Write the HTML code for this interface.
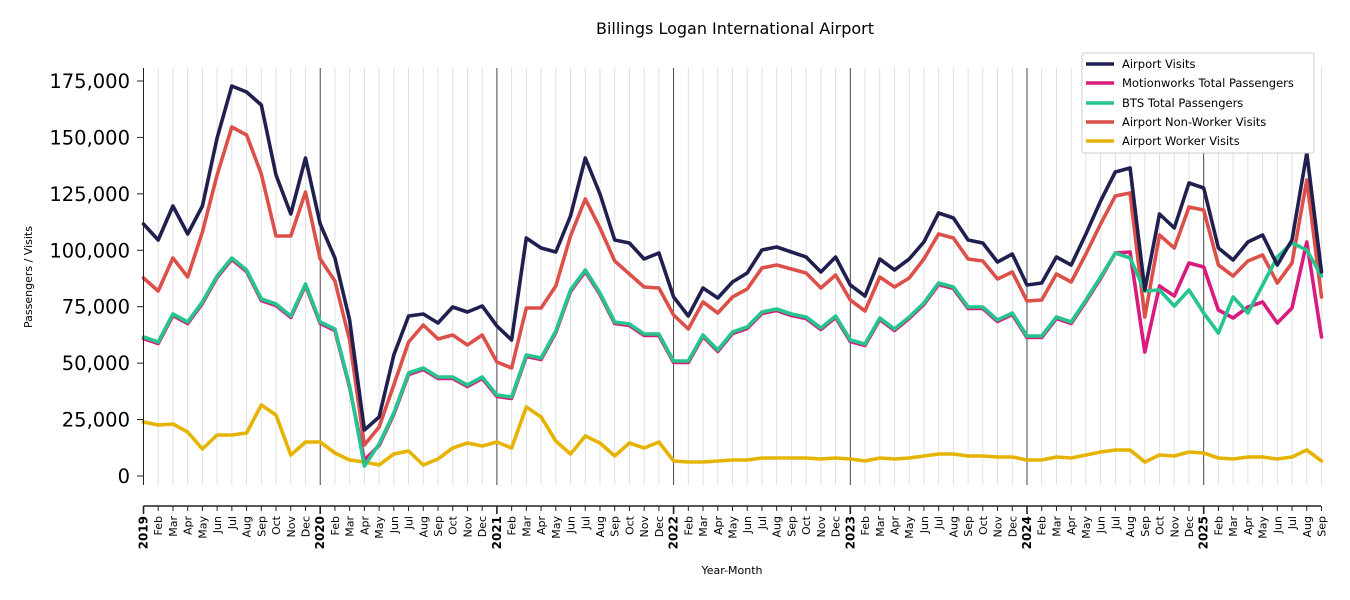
<!DOCTYPE html>
<html><head><meta charset="utf-8"><style>
html,body{margin:0;padding:0;background:#fff;}
svg{display:block;font-family:"DejaVu Sans","Liberation Sans",sans-serif;}
</style></head><body>
<svg id="c" width="1350" height="600" viewBox="0 0 1350 600" xmlns="http://www.w3.org/2000/svg">
<rect width="1350" height="600" fill="#fff"/>
<text x="735" y="34" font-size="16" text-anchor="middle" fill="#000">Billings Logan International Airport</text>
<g id="grid"></g>
<g id="series" fill="none" stroke-width="3.6" stroke-linejoin="round" stroke-linecap="round"></g>
<g id="axes"></g>
<text x="32" y="277" font-size="11" text-anchor="middle" transform="rotate(-90 32 277)">Passengers / Visits</text>
<text x="732" y="574" font-size="11" text-anchor="middle">Year-Month</text>
<g id="legend">
<rect x="1082" y="53" width="232" height="100" fill="#fff" stroke="#ccc" stroke-width="1" rx="2"/>
<g stroke-width="3.6">
<line x1="1086" y1="64" x2="1114" y2="64" stroke="#1f2050"/>
<line x1="1086" y1="83" x2="1114" y2="83" stroke="#d81b7f"/>
<line x1="1086" y1="103" x2="1114" y2="103" stroke="#26c48e"/>
<line x1="1086" y1="122" x2="1114" y2="122" stroke="#dc5049"/>
<line x1="1086" y1="141" x2="1114" y2="141" stroke="#e6b400"/>
</g>
<g font-size="11.5" fill="#000">
<text x="1122" y="68">Airport Visits</text>
<text x="1122" y="87">Motionworks Total Passengers</text>
<text x="1122" y="107">BTS Total Passengers</text>
<text x="1122" y="126">Airport Non-Worker Visits</text>
<text x="1122" y="145">Airport Worker Visits</text>
</g>
</g>
</svg>
<script>
var NS="http://www.w3.org/2000/svg";
function el(t,a,p,txt){var e=document.createElementNS(NS,t);for(var k in a)e.setAttribute(k,a[k]);if(txt!=null)e.textContent=txt;p.appendChild(e);return e;}
var x0=143.5,dx=14.725;
function X(i){return x0+i*dx;}
var grid=document.getElementById('grid'),axes=document.getElementById('axes'),ser=document.getElementById('series');
var months=["Jan","Feb","Mar","Apr","May","Jun","Jul","Aug","Sep","Oct","Nov","Dec"];
for(var i=0;i<=80;i++){
  var x=X(i),m=i%12;
  if(m==0&&i>0){el('line',{x1:x,y1:68,x2:x,y2:485,stroke:'#333','stroke-width':0.9},grid);}
  else if(i>0){el('line',{x1:x,y1:68,x2:x,y2:485,stroke:'#dddddd','stroke-width':0.9},grid);}
  el('line',{x1:x,y1:506,x2:x,y2:m==0?514:511,stroke:'#222','stroke-width':m==0?1.6:1},axes);
  var lbl=m==0?String(2019+i/12):months[m];
  el('text',{x:0,y:0,'font-size':m==0?12:11,'font-weight':m==0?'bold':'normal','text-anchor':'end',transform:'translate('+(x+4)+',516) rotate(-90)'},axes,lbl);
}
el('line',{x1:143.5,y1:506,x2:1321,y2:506,stroke:'#222','stroke-width':1.6},axes);
el('line',{x1:143.5,y1:68,x2:143.5,y2:485,stroke:'#222','stroke-width':1},axes);
var yl=["0","25,000","50,000","75,000","100,000","125,000","150,000","175,000"];
for(var j=0;j<8;j++){var y=476-j*56.43;
  el('line',{x1:137,y1:y,x2:143.5,y2:y,stroke:'#222','stroke-width':1},axes);
  el('text',{x:130,y:y+7,'font-size':19.5,'text-anchor':'end',fill:'#000'},axes,yl[j]);}
var AV=[224,240,206,234,206,138,86,92,105,175,214,158, 224,258,320,430,417,355,316,314,323,307,312,306, 326,340,238,248,252,216,158,194,240,243,259,253, 297,316,288,298,282,273,250,247,252,257,272,257, 285,296,259,270,259,242,213,218,240,243,262,254, 285,283,257,265,234,201,172,168,290,214,228,183, 188,248,260,242,235,265,240,153,272];
var NW=[278,291,258,277,232,175,127,135,174,236,236,192, 259,281,340,445,427,385,342,325,339,335,345,335, 362,368,308,308,286,236,199,228,261,274,287,288, 315,329,302,313,297,289,268,265,269,273,288,275, 300,311,277,287,278,259,234,238,259,261,279,272, 301,300,274,282,254,224,196,193,317,235,248,207, 210,265,276,261,255,283,263,180,297];
var BTS=[337,342,314,322,302,276,258,270,299,304,316,284, 322,329,386,466,444,413,373,368,377,377,385,377, 395,397,355,358,331,290,270,293,322,324,334,334, 361,361,335,350,332,327,312,309,314,317,328,316, 340,344,318,329,317,303,283,287,307,307,320,313, 336,336,317,322,300,277,253,258,291,290,306,290, 313,333,297,313,285,257,243,250,276];
var MW=BTS.map(function(v){return v+1.5;});
var mwTail=[253,252,352,286,296,263,267,310,318,307,302,323,308,242,337];
for(var k=0;k<mwTail.length;k++)MW[66+k]=mwTail[k];
MW[15]=460;
var WK=[422,425,424,432,449,435,435,433,405,415,455,442, 442,453,460,462,465,454,451,465,459,448,443,446, 442,448,407,417,441,454,436,443,456,443,448,442, 461,462,462,461,460,460,458,458,458,458,459,458, 459,461,458,459,458,456,454,454,456,456,457,457, 460,460,457,458,455,452,450,450,462,455,456,452, 453,458,459,457,457,459,457,450,461];
function pl(d,c){el('polyline',{points:d.map(function(v,i){return X(i).toFixed(1)+','+v;}).join(' '),stroke:c},ser);}
pl(WK,'#e6b400');pl(NW,'#dc5049');pl(MW,'#d81b7f');pl(BTS,'#26c48e');pl(AV,'#1f2050');
</script>
</body></html>
